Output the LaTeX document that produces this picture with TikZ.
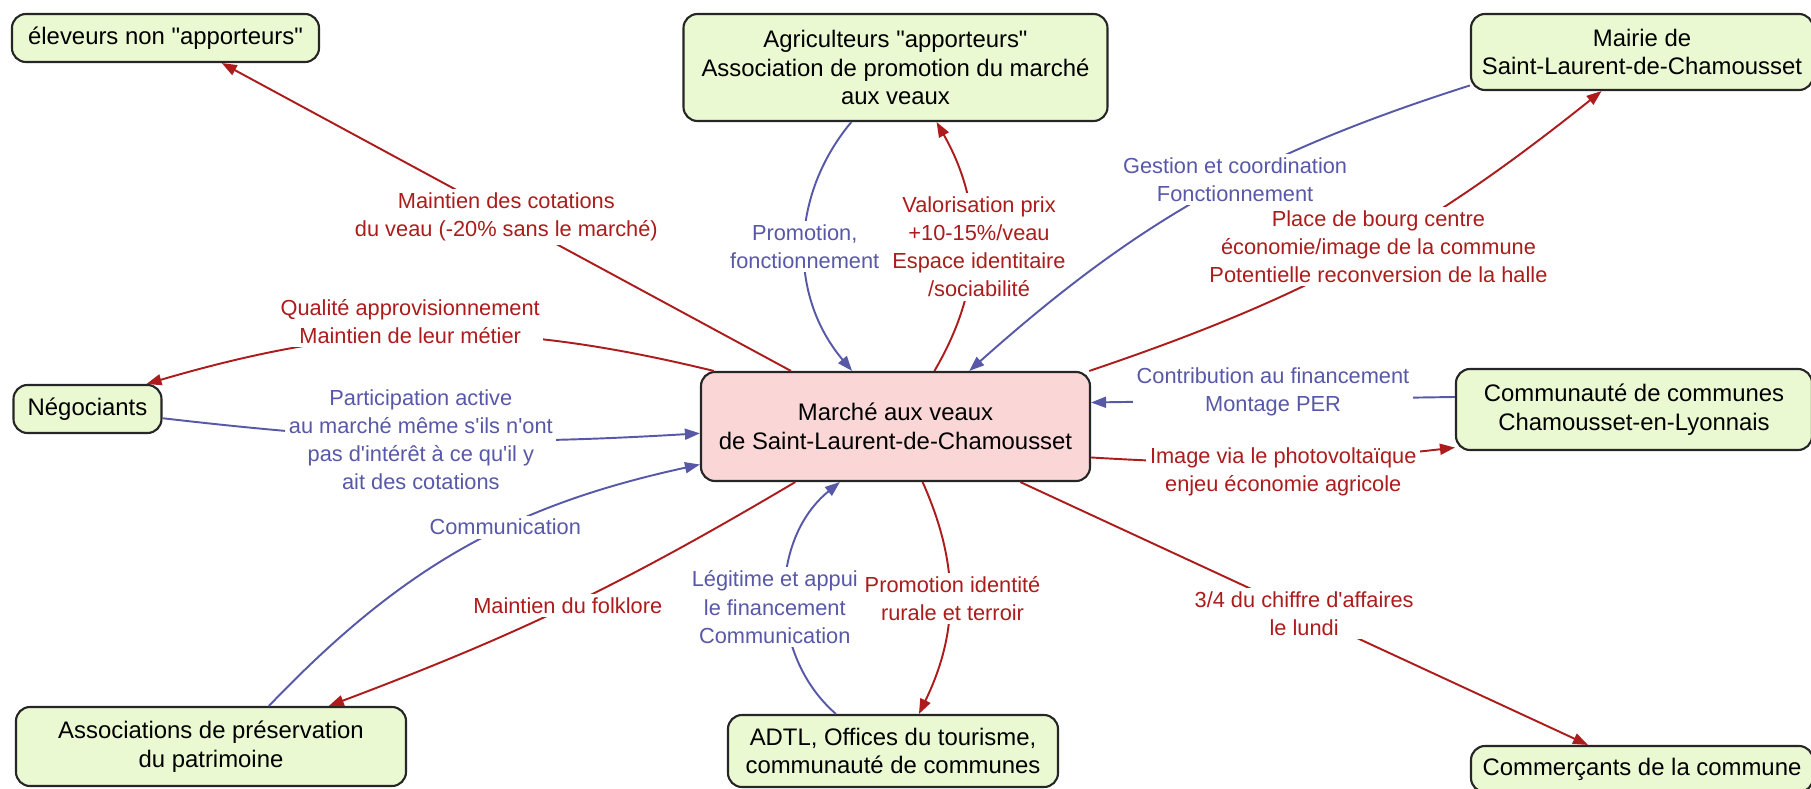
\documentclass[tikz,border=0pt]{standalone}
\usepackage{fontspec}
\newfontfamily\diagfont{Liberation Sans}
\usetikzlibrary{arrows.meta}
\definecolor{actorfill}{RGB}{234,249,210}
\definecolor{marketfill}{RGB}{250,214,214}
\definecolor{linkred}{RGB}{172,28,28}
\definecolor{linkblue}{RGB}{88,88,168}
\begin{document}
\begin{tikzpicture}[
  actor/.style={draw=black!85, line width=0.6pt, rounded corners=1.4mm, fill=actorfill, align=center, inner sep=1pt, font=\diagfont\fontsize{6.8}{8.2}\selectfont},
  market/.style={actor, fill=marketfill},
  redlink/.style={draw=linkred, line width=0.55pt, -{Triangle[length=1.5mm,width=1.1mm]}},
  bluelink/.style={draw=linkblue, line width=0.55pt, -{Triangle[length=1.5mm,width=1.1mm]}},
  redlbl/.style={fill=white, inner sep=1pt, align=center, text=linkred, font=\diagfont\fontsize{6.2}{8}\selectfont},
  bluelbl/.style={redlbl, text=linkblue}
]
\useasboundingbox (-8.955,4.265) rectangle (9.155,-3.615);
\node[market, minimum width=3.89cm, minimum height=1.09cm] (marche) at (0,0) {Marché aux veaux\\de Saint-Laurent-de-Chamousset};
\node[actor, minimum width=3.07cm, minimum height=0.48cm] (eleveurs) at (-7.30,3.885) {éleveurs non "apporteurs"};
\node[actor, minimum width=4.24cm, minimum height=1.07cm] (agri) at (0,3.59) {Agriculteurs "apporteurs"\\Association de promotion du marché\\aux veaux};
\node[actor, minimum width=3.42cm, minimum height=0.76cm] (mairie) at (7.465,3.745) {Mairie de\\Saint-Laurent-de-Chamousset};
\node[actor, minimum width=1.48cm, minimum height=0.48cm] (negociants) at (-8.08,0.175) {Négociants};
\node[actor, minimum width=3.56cm, minimum height=0.81cm] (communaute) at (7.385,0.17) {Communauté de communes\\Chamousset-en-Lyonnais};
\node[actor, minimum width=3.90cm, minimum height=0.79cm] (associations) at (-6.845,-3.20) {Associations de préservation\\du patrimoine};
\node[actor, minimum width=3.30cm, minimum height=0.72cm] (adtl) at (-0.025,-3.245) {ADTL, Offices du tourisme,\\communauté de communes};
\node[actor, minimum width=3.42cm, minimum height=0.46cm] (commercants) at (7.465,-3.425) {Commerçants de la commune};
\draw[redlink] (marche.152) -- node[redlbl]{Maintien des cotations\\du veau (-20\% sans le marché)} (eleveurs.-24);
\draw[redlink] (marche.163) to[bend right=15] node[redlbl, yshift=0.13cm, xshift=-0.19cm]{Qualité approvisionnement\\Maintien de leur métier} (negociants.23);
\draw[bluelink] (negociants.-7) to[bend right=5] node[bluelbl, xshift=-0.1cm]{Participation active\\au marché même s'ils n'ont\\pas d'intérêt à ce qu'il y\\ait des cotations} (marche.182);
\draw[bluelink] (associations.35) to[bend left=17] node[bluelbl, pos=0.6]{Communication} (marche.191);
\draw[redlink] (marche.209) to[bend left=5] node[redlbl]{Maintien du folklore} (associations.19);
\draw[bluelink] (adtl.147) to[bend left=50] node[bluelbl, yshift=-0.1cm, xshift=-0.11cm]{Légitime et appui\\le financement\\Communication} (marche.225);
\draw[redlink] (marche.296) to[bend left=25] node[redlbl, xshift=0.03cm]{Promotion identité\\rurale et terroir} (adtl.55);
\draw[bluelink] (agri.231) to[bend right=40] node[bluelbl]{Promotion,\\fonctionnement} (marche.128);
\draw[redlink] (marche.55) to[bend right=30] node[redlbl, xshift=0.07cm]{Valorisation prix\\+10-15\%/veau\\Espace identitaire\\/sociabilité} (agri.-53);
\draw[bluelink] (mairie.191) to[bend right=12] node[bluelbl, pos=0.43]{Gestion et coordination\\Fonctionnement} (marche.37);
\draw[redlink] (marche.16) to[bend right=10] node[redlbl, pos=0.54]{Place de bourg centre\\économie/image de la commune\\Potentielle reconversion de la halle} (mairie.224);
\draw[bluelink] (communaute.176) -- node[bluelbl, yshift=0.08cm]{Contribution au financement\\Montage PER} (marche.7);
\draw[redlink] (marche.-9) to[bend right=5] node[redlbl, yshift=-0.1cm, xshift=0.1cm]{Image via le photovoltaïque\\enjeu économie agricole} (communaute.192);
\draw[redlink] (marche.-24) -- node[redlbl]{3/4 du chiffre d'affaires\\le lundi} (commercants.156);
\end{tikzpicture}
\end{document}
